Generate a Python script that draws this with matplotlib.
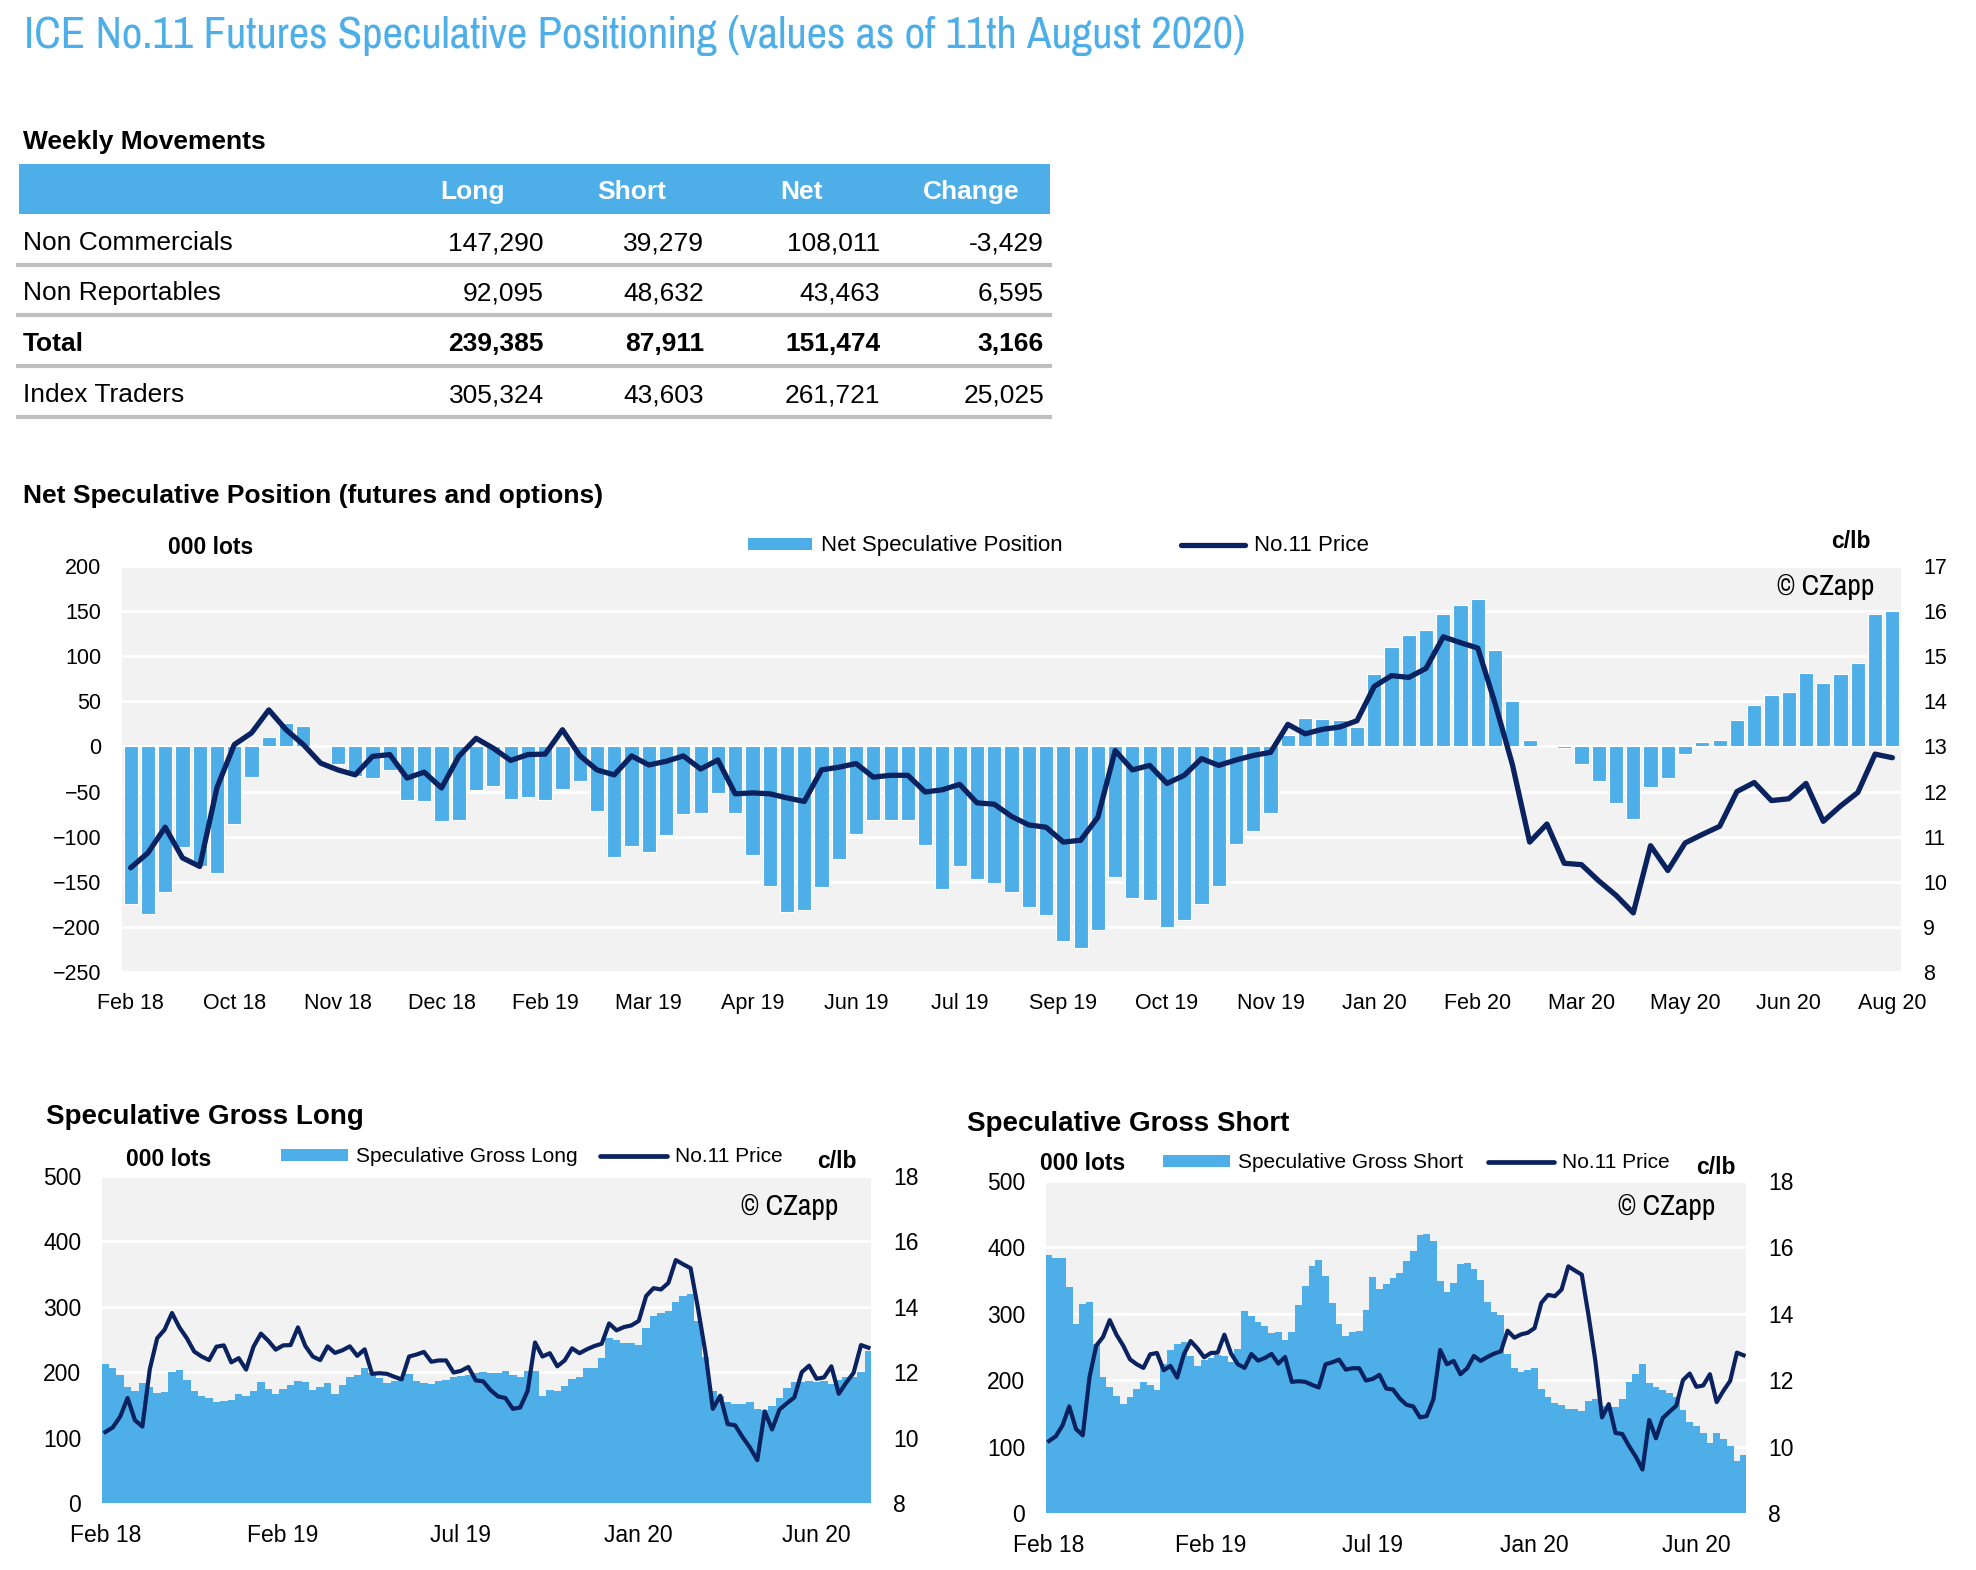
import matplotlib
matplotlib.use('Agg')
import matplotlib.pyplot as plt
from matplotlib.patches import Rectangle, Patch
from matplotlib.lines import Line2D
from matplotlib import font_manager as fm
import numpy as np

W, H = 1976, 1570
BLUE = '#4DAEE8'
NAVY = '#0A2260'
PANEL = '#F2F2F2'
SANS = ['Liberation Sans', 'DejaVu Sans']
plt.rcParams['font.family'] = SANS

# ---------------- data ----------------
title = "ICE No.11 Futures Speculative Positioning (values as of 11th August 2020)"
table_cols = ['Long', 'Short', 'Net', 'Change']
table_rows = ['Non Commercials', 'Non Reportables', 'Total', 'Index Traders']
table_long = [147290, 92095, 239385, 305324]
table_short = [39279, 48632, 87911, 43603]
table_net = [108011, 43463, 151474, 261721]
table_change = [-3429, 6595, 3166, 25025]

# net speculative position (000 lots), weeks 1..103
net_position = [
    -175, -186, -161, -111, -132, -140, -86, -34, 11, 26,
    23, -1, -20, -33, -35, -26, -59, -61, -83, -82,
    -48, -44, -58, -56, -59, -47, -38, -71, -123, -110,
    -117, -98, -75, -74, -52, -74, -120, -155, -184, -181,
    -156, -125, -97, -82, -82, -82, -109, -158, -132, -147,
    -151, -161, -178, -187, -216, -223, -203, -145, -168, -170,
    -200, -192, -175, -155, -108, -94, -74, 13, 31, 30,
    29, 22, 80, 110, 123, 129, 147, 157, 163, 107,
    50, 7, 0, -2, -19, -38, -63, -80, -45, -35,
    -8, 5, 7, 29, 46, 57, 60, 81, 70, 80,
    92, 147, 150]

# No.11 price (c/lb), weeks 0..103
price = [
    10.17, 10.31, 10.64, 11.21, 10.53, 10.34, 12.09, 13.04, 13.30, 13.81,
    13.37, 13.04, 12.63, 12.48, 12.37, 12.78, 12.82, 12.30, 12.43, 12.08,
    12.78, 13.18, 12.96, 12.69, 12.82, 12.83, 13.37, 12.80, 12.48, 12.37,
    12.79, 12.59, 12.67, 12.79, 12.50, 12.70, 11.95, 11.97, 11.95, 11.86,
    11.78, 12.48, 12.54, 12.62, 12.32, 12.36, 12.36, 11.99, 12.04, 12.16,
    11.75, 11.72, 11.45, 11.26, 11.21, 10.88, 10.92, 11.43, 12.91, 12.48,
    12.58, 12.18, 12.36, 12.73, 12.58, 12.70, 12.80, 12.87, 13.49, 13.28,
    13.38, 13.43, 13.57, 14.33, 14.57, 14.53, 14.73, 15.43, 15.30, 15.18,
    13.95, 12.60, 10.88, 11.28, 10.41, 10.38, 10.02, 9.70, 9.31, 10.80,
    10.25, 10.86, 11.05, 11.23, 12.00, 12.20, 11.80, 11.84, 12.18, 11.34,
    11.68, 11.98, 12.83, 12.75]

# speculative gross long (000 lots), weeks 0..103
gross_long = [
    212, 207, 195, 177, 171, 183, 178, 168, 169, 201,
    204, 188, 171, 164, 160, 155, 156, 158, 167, 163,
    172, 185, 175, 167, 174, 181, 186, 185, 173, 177,
    184, 167, 180, 192, 196, 206, 199, 191, 183, 186,
    191, 198, 187, 183, 182, 187, 188, 193, 194, 196,
    199, 201, 199, 199, 202, 196, 193, 202, 202, 163,
    173, 171, 179, 189, 192, 206, 206, 221, 252, 249,
    245, 245, 241, 267, 286, 291, 293, 307, 317, 319,
    278, 224, 172, 163, 154, 151, 151, 155, 144, 142,
    149, 160, 176, 185, 185, 187, 185, 187, 182, 188,
    192, 193, 200, 232]

# speculative gross short (000 lots), weeks 0..103
gross_short = [
    388, 384, 384, 341, 284, 315, 318, 255, 205, 190,
    176, 164, 175, 186, 197, 193, 185, 225, 245, 255,
    258, 236, 222, 230, 234, 238, 236, 228, 247, 304,
    296, 288, 281, 271, 273, 260, 273, 313, 342, 372,
    381, 357, 316, 284, 267, 272, 274, 305, 355, 338,
    345, 354, 362, 379, 394, 419, 420, 410, 350, 333,
    347, 375, 376, 368, 351, 318, 302, 298, 239, 218,
    213, 215, 219, 186, 175, 166, 162, 157, 157, 154,
    168, 171, 161, 159, 160, 171, 197, 210, 224, 196,
    190, 185, 181, 175, 155, 137, 131, 121, 106, 120,
    111, 101, 78, 88]

main_tick_labels = ['Feb 18', 'Oct 18', 'Nov 18', 'Dec 18', 'Feb 19', 'Mar 19',
                    'Apr 19', 'Jun 19', 'Jul 19', 'Sep 19', 'Oct 19', 'Nov 19',
                    'Jan 20', 'Feb 20', 'Mar 20', 'May 20', 'Jun 20', 'Aug 20']
small_tick_labels = ['Feb 18', 'Feb 19', 'Jul 19', 'Jan 20', 'Jun 20']


# ---------------- helpers ----------------
def fx(px):
    return px / W


def fy(py):
    return 1 - py / H


def axes_rect(x0, y0, x1, y1):
    return [fx(x0), fy(y1), (x1 - x0) / W, (y1 - y0) / H]


fig = plt.figure(figsize=(W / 100, H / 100), dpi=100)
renderer = fig.canvas.get_renderer()


def weight_num(f):
    try:
        return int(f.weight)
    except Exception:
        return {'light': 300, 'normal': 400, 'regular': 400, 'book': 400,
                'medium': 500}.get(str(f.weight).lower(), 700)


def pick_condensed(sample, target_w, target_size):
    """Pick the narrow sans font that, at target_size, is closest to target_w."""
    cands = []
    seen = set()
    for f in fm.fontManager.ttflist:
        nm = f.name.lower()
        fn = f.fname.lower()
        stretch = str(f.stretch).lower()
        is_cond = ('condensed' in nm or 'narrow' in nm or 'condensed' in fn
                   or 'narrow' in fn or 'condensed' in stretch)
        if not is_cond:
            continue
        if 'mono' in nm or ('serif' in nm and 'sans' not in nm):
            continue
        if str(f.style).lower() != 'normal':
            continue
        if not (300 <= weight_num(f) <= 500):
            continue
        if f.fname in seen:
            continue
        seen.add(f.fname)
        cands.append(f)
    best, best_err = None, None
    for f in cands:
        fp = fm.FontProperties(fname=f.fname, size=target_size)
        try:
            t = fig.text(0, 0, sample, fontproperties=fp)
            w = t.get_window_extent(renderer=renderer).width
            t.remove()
        except Exception:
            continue
        err = abs(w - target_w) + 0.3 * abs(weight_num(f) - 400)
        if best_err is None or err < best_err:
            best, best_err = f, err
    if best is not None:
        return fm.FontProperties(fname=best.fname)
    return fm.FontProperties(family=SANS)


COND = pick_condensed(title, 1222, 35)


def fit_width(t, target_px):
    bb = t.get_window_extent(renderer=renderer)
    if bb.width > 0:
        t.set_fontsize(t.get_fontsize() * target_px / bb.width)


# ---------------- title ----------------
tt = fig.text(fx(24), fy(35), title, color=BLUE, fontproperties=COND,
              va='center', ha='left')
tt.set_fontsize(35)
fit_width(tt, 1222)

# ---------------- table ----------------
fig.text(fx(23), fy(142), 'Weekly Movements', fontsize=19, fontweight='bold',
         va='center', ha='left')
fig.add_artist(Rectangle((fx(19), fy(214)), (1050 - 19) / W, 50 / H,
                         transform=fig.transFigure, facecolor=BLUE,
                         edgecolor='none'))
col_centers = [472, 632, 801, 971]
col_rights = [544, 704, 880, 1044]
for c, xc in zip(table_cols, col_centers):
    fig.text(fx(xc), fy(192), c, color='white', fontsize=19,
             fontweight='bold', ha='center', va='center')
row_y = [243, 293, 344, 395]
line_y = [265, 315, 366, 417]
for i, name in enumerate(table_rows):
    wt = 'bold' if name == 'Total' else 'normal'
    fig.text(fx(23), fy(row_y[i]), name, fontsize=19, fontweight=wt,
             ha='left', va='center')
    vals = [table_long[i], table_short[i], table_net[i], table_change[i]]
    for v, xr in zip(vals, col_rights):
        fig.text(fx(xr), fy(row_y[i]), f"{v:,}", fontsize=19, fontweight=wt,
                 ha='right', va='center')
    fig.add_artist(Line2D([fx(18), fx(1050)], [fy(line_y[i]), fy(line_y[i])],
                          transform=fig.transFigure, color='#BFBFBF', lw=3))

# ---------------- main chart ----------------
fig.text(fx(23), fy(496), 'Net Speculative Position (futures and options)',
         fontsize=19, fontweight='bold', ha='left', va='center')

weeks = np.arange(len(price))
net_weeks = weeks[1:1 + len(net_position)]

ax = fig.add_axes(axes_rect(122, 566, 1901, 972))
ax.set_facecolor(PANEL)
ax.bar(net_weeks, net_position, width=0.82, color=BLUE, edgecolor='white',
       linewidth=0.8, zorder=2)
ax.set_ylim(-250, 200)
ax.set_yticks(np.arange(-250, 201, 50))
ax.set_xlim(net_weeks[0] - 0.5, net_weeks[-1] + 0.5)
ax.set_xticks(net_weeks[::6])
ax.set_xticklabels(main_tick_labels)
ax.yaxis.grid(True, color='white', linewidth=2)
ax.set_axisbelow(True)
for s in ax.spines.values():
    s.set_visible(False)
ax.tick_params(axis='both', length=0, labelsize=15.5)
ax.tick_params(axis='y', pad=15)
ax.tick_params(axis='x', pad=15)

ax2 = ax.twinx()
ax2.plot(net_weeks, price[1:], color=NAVY, lw=3.8, solid_joinstyle='round',
         solid_capstyle='round', zorder=3)
ax2.set_ylim(8, 17)
ax2.set_yticks(np.arange(8, 18, 1))
for s in ax2.spines.values():
    s.set_visible(False)
ax2.tick_params(axis='y', length=0, labelsize=15.5, pad=16)

fig.text(fx(168), fy(547), '000 lots', fontsize=16.5, fontweight='bold',
         ha='left', va='center')
fig.text(fx(1871), fy(542), 'c/lb', fontsize=16.5, fontweight='bold',
         ha='right', va='center')
cz = fig.text(fx(1874), fy(587), '\u00a9 CZapp', fontproperties=COND,
              ha='right', va='center')
cz.set_fontsize(21)
fit_width(cz, 97)
fig.legend(handles=[Patch(facecolor=BLUE, edgecolor='none'),
                    Line2D([], [], color=NAVY, lw=3.8, solid_capstyle='round')],
           labels=['Net Speculative Position', 'No.11 Price'],
           loc='center left', bbox_to_anchor=(fx(748), fy(546)), ncol=2,
           frameon=False, fontsize=16, handlelength=2.9, handleheight=0.45,
           handletextpad=0.4, columnspacing=5.3, borderpad=0, borderaxespad=0)


# ---------------- small charts ----------------
def small_chart(rect, values, series_name, title_text, title_xy, lots_xy,
                clb_xy, cz_xy, leg_xy, colspace):
    a = fig.add_axes(axes_rect(*rect))
    a.set_facecolor(PANEL)
    a.bar(weeks, values, width=1.0, color=BLUE, linewidth=0, zorder=2)
    a.set_ylim(0, 500)
    a.set_yticks(np.arange(0, 501, 100))
    a.set_xlim(-0.45, weeks[-1] + 0.35)
    a.set_xticks(weeks[::24])
    a.set_xticklabels(small_tick_labels)
    a.yaxis.grid(True, color='white', linewidth=2)
    a.set_axisbelow(True)
    for s in a.spines.values():
        s.set_visible(False)
    a.tick_params(axis='both', length=0, labelsize=16.5, pad=15)
    b = a.twinx()
    b.plot(weeks, price, color=NAVY, lw=3.0, zorder=3)
    b.set_ylim(8, 18)
    b.set_yticks(np.arange(8, 19, 2))
    for s in b.spines.values():
        s.set_visible(False)
    b.tick_params(axis='y', length=0, labelsize=16.5, pad=16)
    fig.text(fx(title_xy[0]), fy(title_xy[1]), title_text, fontsize=20,
             fontweight='bold', ha='left', va='center')
    fig.text(fx(lots_xy[0]), fy(lots_xy[1]), '000 lots', fontsize=16.5,
             fontweight='bold', ha='left', va='center')
    fig.text(fx(clb_xy[0]), fy(clb_xy[1]), 'c/lb', fontsize=16.5,
             fontweight='bold', ha='right', va='center')
    c = fig.text(fx(cz_xy[0]), fy(cz_xy[1]), '\u00a9 CZapp',
                 fontproperties=COND, ha='right', va='center')
    c.set_fontsize(21)
    fit_width(c, 97)
    fig.legend(handles=[Patch(facecolor=BLUE, edgecolor='none'),
                        Line2D([], [], color=NAVY, lw=3.4,
                               solid_capstyle='round')],
               labels=[series_name, 'No.11 Price'],
               loc='center left', bbox_to_anchor=(fx(leg_xy[0]), fy(leg_xy[1])),
               ncol=2, frameon=False, fontsize=15, handlelength=3.2,
               handleheight=0.5, handletextpad=0.38, columnspacing=colspace,
               borderpad=0, borderaxespad=0)
    return a


small_chart((102, 1176, 871, 1503), gross_long, 'Speculative Gross Long',
            'Speculative Gross Long', (46, 1117), (126, 1159), (857, 1162),
            (838, 1207), (281, 1157), 1.1)
small_chart((1046, 1181, 1746, 1513), gross_short, 'Speculative Gross Short',
            'Speculative Gross Short', (967, 1124), (1040, 1163), (1736, 1168),
            (1715, 1207), (1163, 1163), 1.2)

fig.savefig('out.png', dpi=100, facecolor='white')
